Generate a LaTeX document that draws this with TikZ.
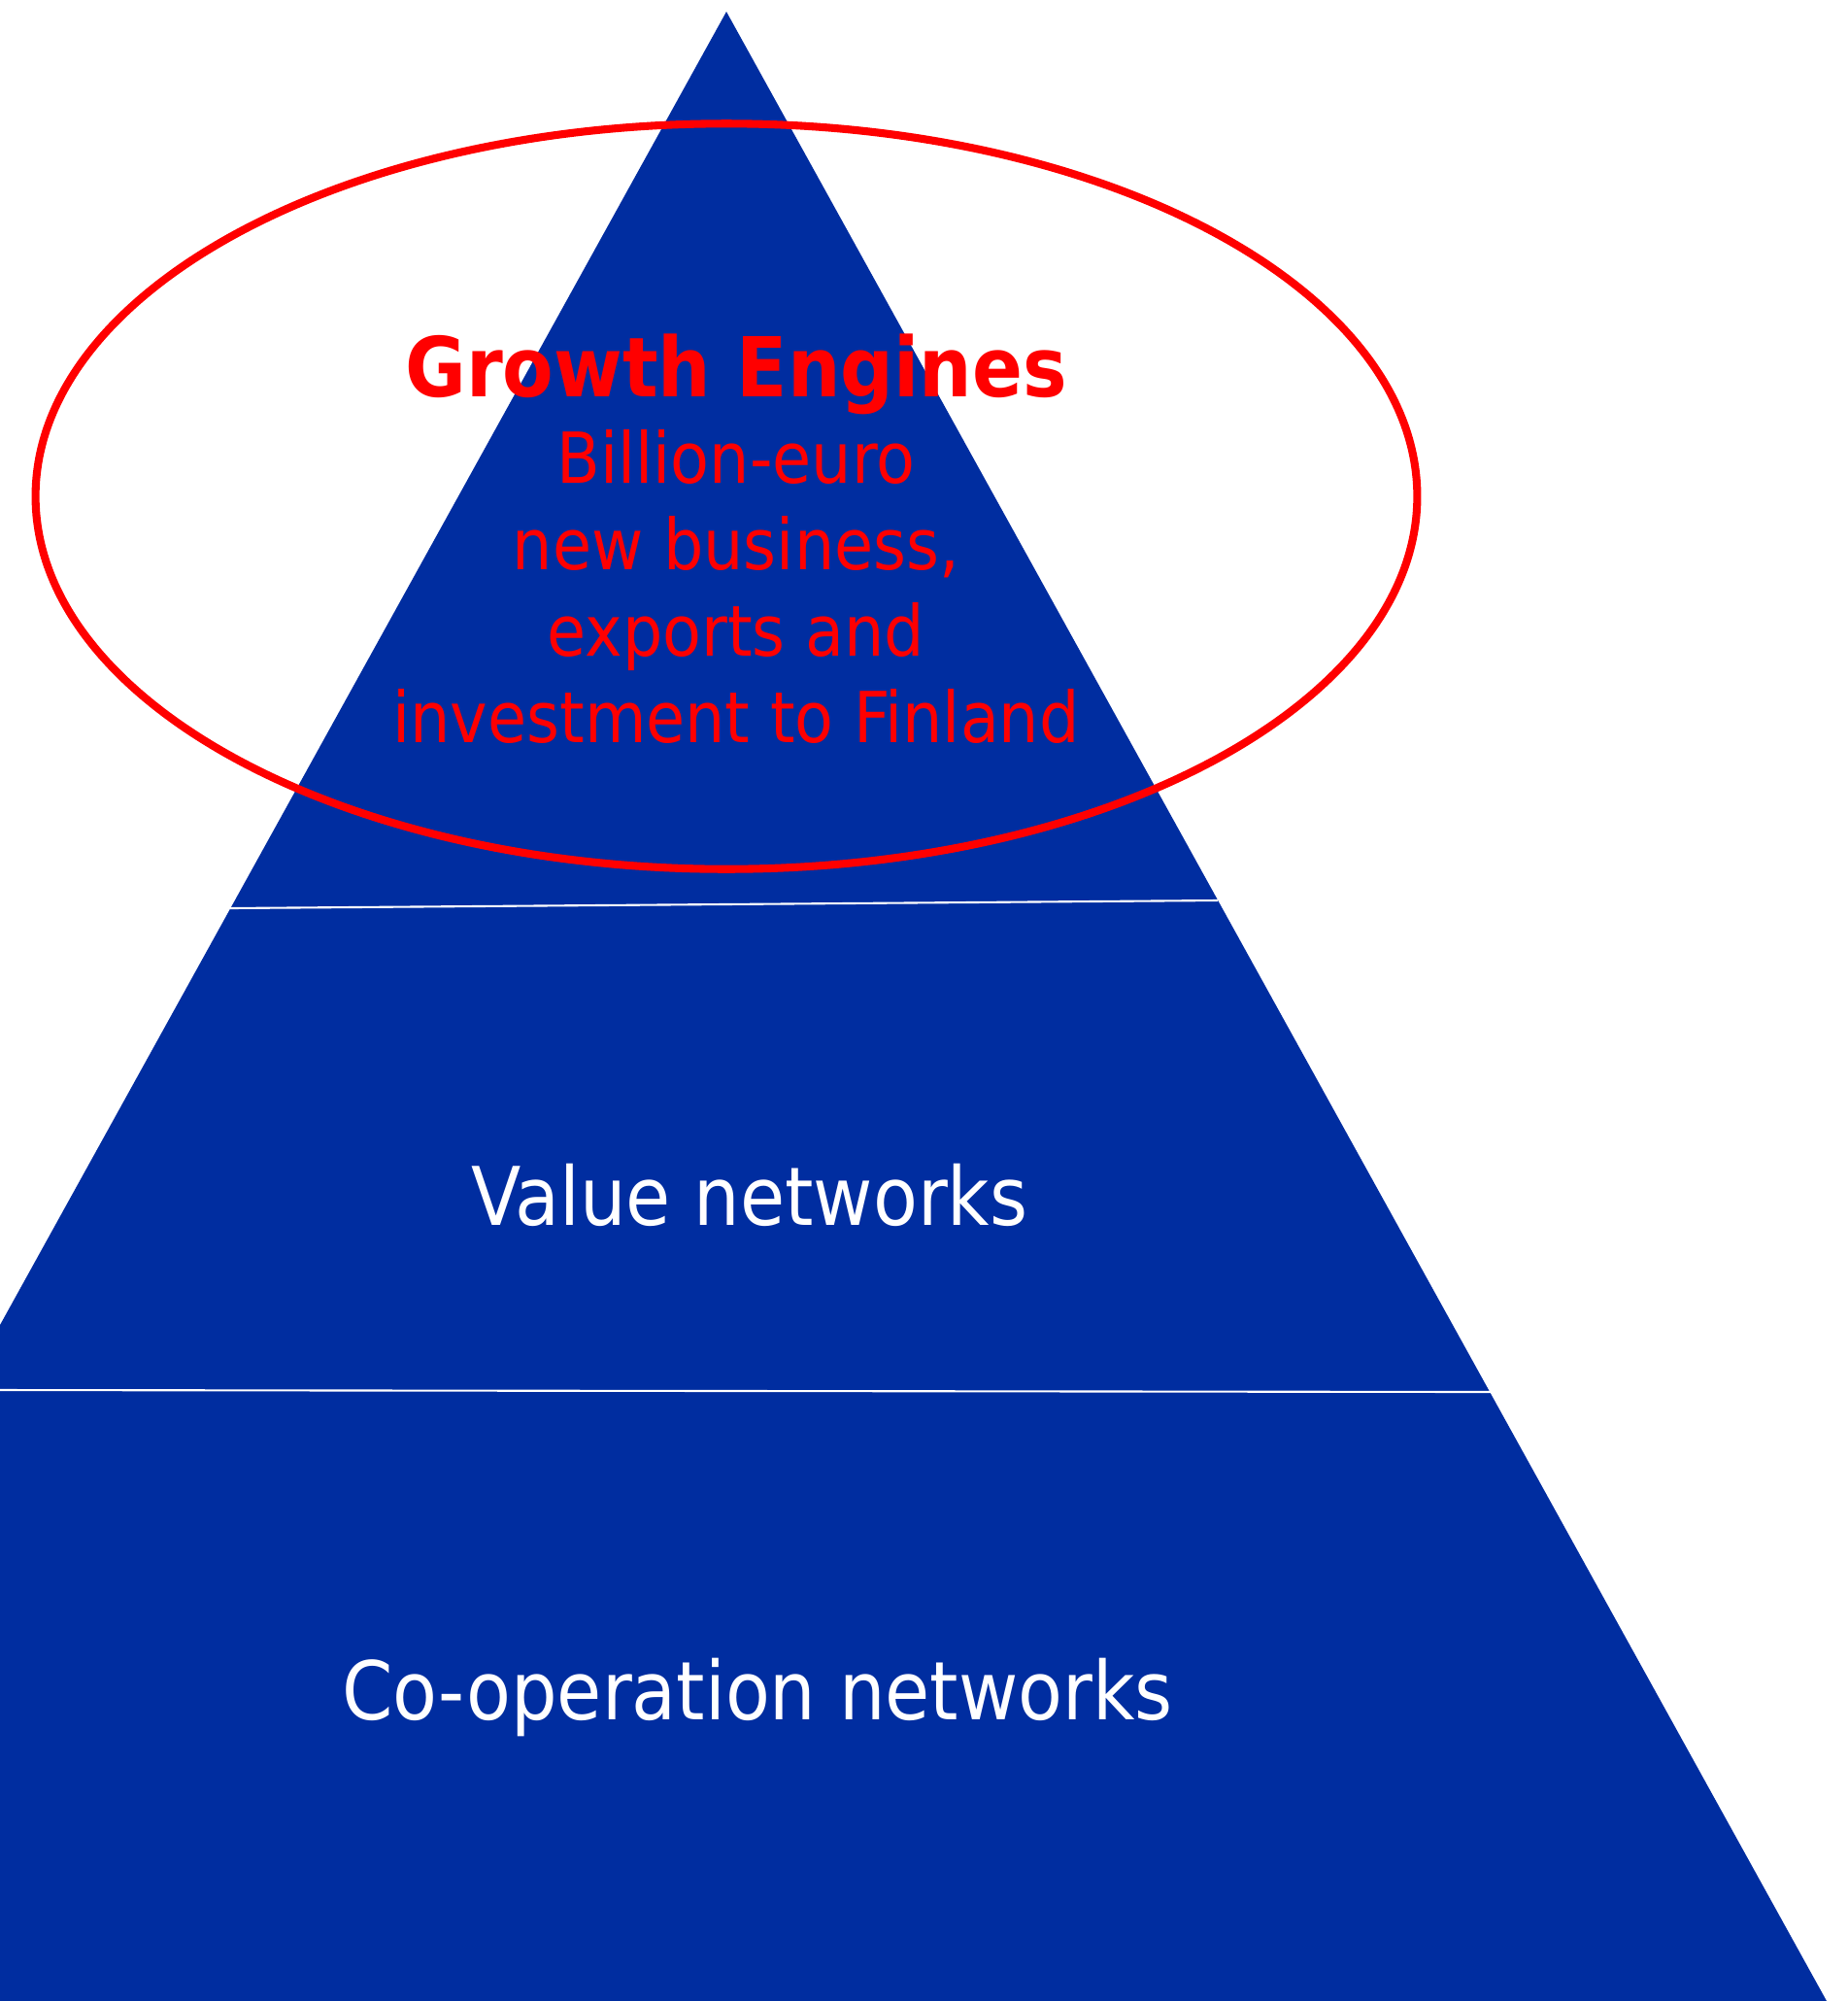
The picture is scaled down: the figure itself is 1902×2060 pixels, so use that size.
\documentclass[tikz,border=0pt]{standalone}
\usepackage{fontspec}
\usetikzlibrary{shapes.geometric}
\setmainfont{DejaVu Sans Condensed}
\definecolor{pyrblue}{RGB}{0,45,160}
\definecolor{pyrred}{RGB}{255,0,0}
\tikzset{
  layer/.style={fill=pyrblue, draw=none},
  divider/.style={draw=white, line width=0.6pt},
  redtext/.style={text=pyrred, align=center, inner sep=0pt, font=\fontsize{20.6pt}{25.3pt}\selectfont},
  whitetext/.style={text=white, inner sep=0pt, anchor=base, font=\fontsize{23.7pt}{28pt}\selectfont},
}
\begin{document}
\begin{tikzpicture}[x=0.01cm, y=-0.01cm]
\useasboundingbox (0,0) rectangle (1902,2060);
\begin{scope}
\clip (0,0) rectangle (1902,2060);
\coordinate (apex) at (748,12);
\coordinate (bl) at (-385,2060);
\coordinate (br) at (1881,2060);
\fill[layer] (apex) -- (br) -- (bl) -- cycle;
\coordinate (d1l) at (237,935);
\coordinate (d1r) at (1254,927);
\coordinate (d2l) at (-10,1431);
\coordinate (d2r) at (1535,1433);
\draw[divider] (d1l) -- (d1r);
\draw[divider] (d2l) -- (d2r);
\end{scope}
\node[draw=pyrred, line width=2.3pt, ellipse, minimum width=14.22cm, minimum height=7.67cm, inner sep=0pt] (oval) at (748,511) {};
\node[redtext, anchor=base] (growth) at (758,764) {{\bfseries\fontsize{24.2pt}{25.3pt}\selectfont Growth Engines}\\Billion-euro\\new business,\\exports and\\investment to Finland};
\node[whitetext] (value) at (772,1261) {Value networks};
\node[whitetext] (coop) at (780,1770) {Co-operation networks};
\end{tikzpicture}
\end{document}
